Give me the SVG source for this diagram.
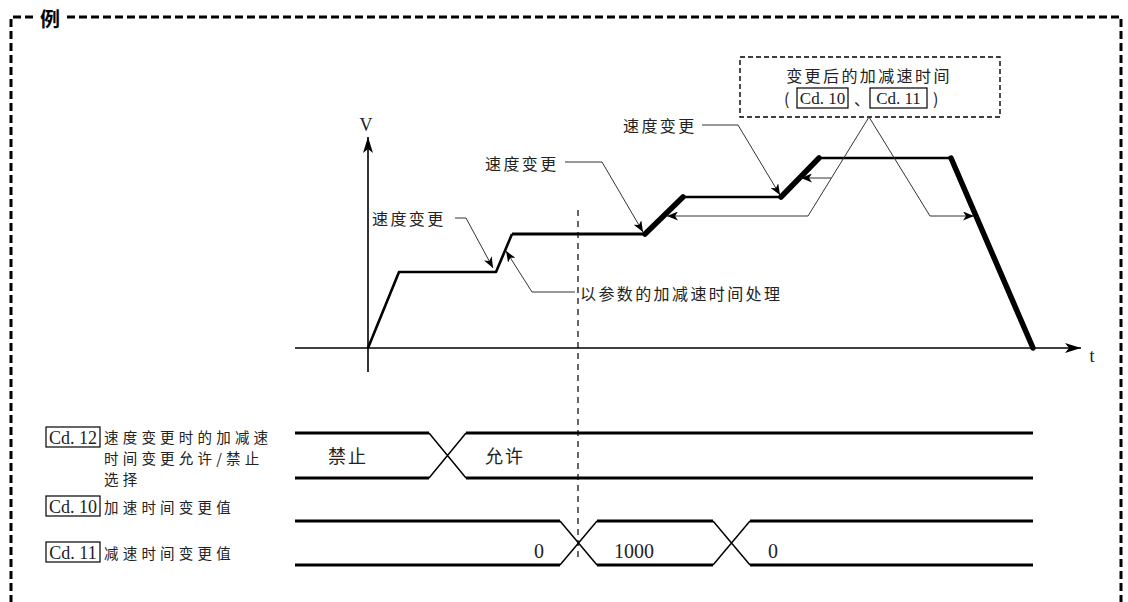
<svg xmlns="http://www.w3.org/2000/svg" width="1128" height="602" viewBox="0 0 1128 602">
<style>
.cjk{font-family:"Noto Sans CJK SC","Noto Sans CJK JP",sans-serif;font-size:16px;letter-spacing:2.4px;fill:#222}
.lab{font-size:14.5px;letter-spacing:4.2px}
.big{font-size:18px;letter-spacing:2px}
.ser{font-family:"Liberation Serif",serif;fill:#222}
.frame{fill:none;stroke:#000;stroke-width:3;stroke-dasharray:8 4}
.ax{fill:none;stroke:#000;stroke-width:1.6}
.prof{fill:none;stroke:#000;stroke-width:2.6;stroke-linejoin:round}
.thick{fill:none;stroke:#000;stroke-width:5.5;stroke-linecap:round}
.lead{fill:none;stroke:#333;stroke-width:1}
.tl{fill:none;stroke:#000;stroke-width:3}
.td{fill:none;stroke:#000;stroke-width:1.5}
.dash{fill:none;stroke:#000;stroke-width:1.2;stroke-dasharray:6 5}
.box{fill:#fff;stroke:#000;stroke-width:1.2}
</style>
<defs>
<marker id="ah" markerUnits="userSpaceOnUse" markerWidth="12" markerHeight="9" refX="11" refY="4.5" orient="auto"><path d="M0,0 L11,4.5 L0,9 L3,4.5 z" fill="#000"/></marker>
<marker id="axh" markerUnits="userSpaceOnUse" markerWidth="17" markerHeight="10" refX="16" refY="5" orient="auto"><path d="M0,0 L16,5 L0,10 L4,5 z" fill="#000"/></marker>
</defs>

<g id="frame">
<path class="frame" d="M33,17 H11 V610"/>
<path class="frame" d="M67,17 H1121 V610"/>
<text x="50" y="18" class="cjk" style="font-size:20px;font-weight:bold;letter-spacing:0;fill:#000" text-anchor="middle" dominant-baseline="central">例</text>
</g>

<g id="axes">
<line class="ax" x1="368" y1="372" x2="368" y2="137" marker-end="url(#axh)"/>
<line class="ax" x1="295" y1="348" x2="1081" y2="348" marker-end="url(#axh)"/>
<text x="366" y="125" class="ser" style="font-size:18px" text-anchor="middle" dominant-baseline="central">V</text>
<text x="1092" y="356" class="ser" style="font-size:18px" text-anchor="middle" dominant-baseline="central">t</text>
</g>

<g id="profile">
<path class="prof" d="M368,348 L399,272 L496,272 L512,234"/>
<path class="prof" style="stroke-width:3.2" d="M512,234 L645,234"/>
<path class="thick" d="M645,234 L683,197"/>
<path class="prof" d="M683,197 L781,197"/>
<path class="thick" d="M781,197 L819,158"/>
<path class="prof" d="M819,158 L951,158"/>
<path class="thick" d="M951,158 L1033,348"/>
</g>

<line id="divider" class="dash" x1="578" y1="210" x2="578" y2="560"/>

<g id="labels">
<text x="372" y="218" class="cjk" dominant-baseline="central">速度变更</text>
<text x="485" y="163" class="cjk" dominant-baseline="central">速度变更</text>
<text x="623" y="125" class="cjk" dominant-baseline="central">速度变更</text>
<text x="580" y="293" class="cjk" dominant-baseline="central">以参数的加减速时间处理</text>
</g>

<g id="note">
<rect x="740" y="57" width="260" height="60" fill="none" stroke="#000" stroke-width="1.4" stroke-dasharray="5 3"/>
<text x="869" y="75" class="cjk" text-anchor="middle" dominant-baseline="central">变更后的加减速时间</text>
<text x="788" y="98" class="cjk" text-anchor="middle" dominant-baseline="central">(</text>
<rect class="box" x="797" y="88" width="51" height="20"/>
<text x="822.5" y="98.5" class="ser" style="font-size:17px" text-anchor="middle" dominant-baseline="central">Cd. 10</text>
<text x="862" y="98" class="cjk" style="letter-spacing:0" text-anchor="middle" dominant-baseline="central">、</text>
<rect class="box" x="870" y="88" width="57" height="20"/>
<text x="898.5" y="98.5" class="ser" style="font-size:17px" text-anchor="middle" dominant-baseline="central">Cd. 11</text>
<text x="937" y="98" class="cjk" text-anchor="middle" dominant-baseline="central">)</text>
</g>

<g id="connectors">
<path class="lead" d="M455,218 H466 L493,268" marker-end="url(#ah)"/>
<path class="lead" d="M565,162 H602 L643,232" marker-end="url(#ah)"/>
<path class="lead" d="M702,125 H738 L780,195" marker-end="url(#ah)"/>
<path class="lead" d="M575,292 H532 L506,251" marker-end="url(#ah)"/>
<path class="lead" d="M869,117 L808,216 H667" marker-end="url(#ah)"/>
<path class="lead" d="M831,178 H801" marker-end="url(#ah)"/>
<path class="lead" d="M869,117 L930,216 H974" marker-end="url(#ah)"/>
</g>

<g id="row-cd12">
<rect class="box" x="46" y="427" width="54" height="20"/>
<text x="73" y="437.5" class="ser" style="font-size:18px" text-anchor="middle" dominant-baseline="central">Cd. 12</text>
<text x="104" y="436" class="cjk lab" dominant-baseline="central">速度变更时的加减速</text>
<text x="104" y="457" class="cjk lab" dominant-baseline="central">时间变更允许/禁止</text>
<text x="104" y="478" class="cjk lab" dominant-baseline="central">选择</text>
<path class="tl" d="M295,433 H429 M466,433 H1033 M295,478 H429 M466,478 H1033"/>
<path class="td" d="M429,433 L466,478 M429,478 L466,433"/>
<text x="328" y="455" class="cjk big" dominant-baseline="central">禁止</text>
<text x="485" y="455" class="cjk big" dominant-baseline="central">允许</text>
</g>

<g id="row-cd10">
<rect class="box" x="46" y="496" width="54" height="20"/>
<text x="73" y="506.5" class="ser" style="font-size:18px" text-anchor="middle" dominant-baseline="central">Cd. 10</text>
<text x="104" y="506" class="cjk lab" dominant-baseline="central">加速时间变更值</text>
<path class="tl" d="M295,521 H560 M597,521 H713 M750,521 H1033 M295,565 H560 M597,565 H713 M750,565 H1033"/>
<path class="td" d="M560,521 L597,565 M560,565 L597,521 M713,521 L750,565 M713,565 L750,521"/>
<text x="539" y="551" class="ser" style="font-size:20px" text-anchor="middle" dominant-baseline="central">0</text>
<text x="634" y="551" class="ser" style="font-size:20px" text-anchor="middle" dominant-baseline="central">1000</text>
<text x="773" y="551" class="ser" style="font-size:20px" text-anchor="middle" dominant-baseline="central">0</text>
</g>

<g id="row-cd11">
<rect class="box" x="46" y="542" width="54" height="20"/>
<text x="73" y="552.5" class="ser" style="font-size:18px" text-anchor="middle" dominant-baseline="central">Cd. 11</text>
<text x="104" y="552" class="cjk lab" dominant-baseline="central">减速时间变更值</text>
</g>
</svg>
